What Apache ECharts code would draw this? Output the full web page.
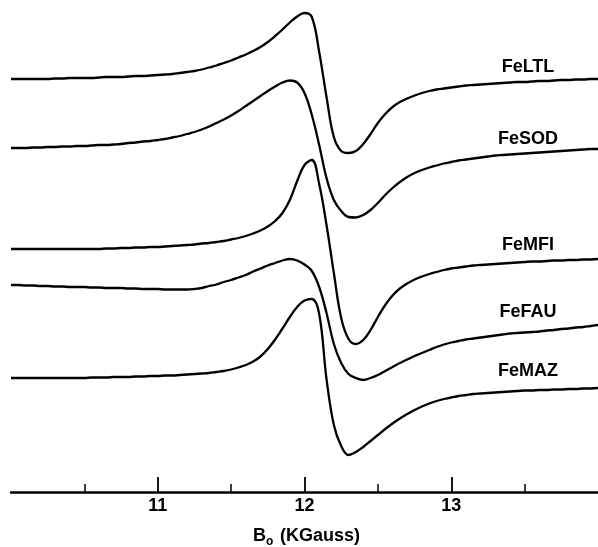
<!DOCTYPE html>
<html>
<head>
<meta charset="utf-8">
<script src="https://cdn.jsdelivr.net/npm/echarts@6/dist/echarts.min.js"></script>
<style>
html,body{margin:0;padding:0;background:#fff;}
#chart{width:598px;height:547px;}
</style>
</head>
<body>
<div id="chart"></div>
<script>
// Magnetic field B0 (KGauss): 10.00 to 14.00 in steps of 0.05
var fieldStart = 10.0;
var fieldStep = 0.05;
// EPR signal (arbitrary units, offset-stacked), one value per field step
var feLTL = [413,413,413,413,413,413,413.5,413.5,414,414,
             414,414,414.5,415,415,415,415.5,416,416,416.5,
             417,417.5,418,419,420,421,422.5,424.5,426.5,429,
             431.5,434.5,437.5,441,445,450,456,462.5,469.5,475.5,
             479,475,440,395,355,341,339,341,348,358,
             369,378,385,390,393.5,396.5,399,401,402.5,403.5,
             404.5,405.5,406.5,407,407.5,408,408.5,409,409.5,410,
             410,410.5,411,411,411.5,412,412,412.5,412.5,413,
             413];
var feSOD = [344,344,344,344.5,344.5,345,345,345.5,345.5,346,
             346,346.5,347,347,347.5,348,349,349.5,350.5,351,
             352,353,354.5,356,358,360,362.5,365.5,369,372.5,
             376.5,381,386,391,396,401,405.5,409.5,411.5,409.5,
             399,377,347,314,292,281,275,274.5,277,282,
             289,297,304,310,315,319,322,324.5,326.5,328.5,
             330,331.5,332.5,333.5,334.5,335.5,336.5,337,337.5,338,
             338.5,339,339.5,340,340.5,341,341.5,342,342.5,343,
             343];
var feMFI = [243,243,243,243,243,243,243,243,243,243,
             243,243,243,243.5,243.5,244,244,244.5,244.5,245,
             245,245.5,246,246.5,247,247.5,248.5,249,250,251,
             252.5,254,256,258.5,261.5,265.5,271,279,292,311,
             327,332,308,267,219,174,153,148,152,162,
             175,187,196.5,203.5,208.5,212.5,215.5,218,220,222,
             223.5,224.5,225.5,226.5,227,227.5,228,228.5,229,229.5,
             230,230.5,230.5,231,231.5,231.5,232,232,232.5,232.5,
             233];
var feFAU = [207,207,206.5,206.5,206,206,205.5,205.5,205,205,
             205,204.5,204.5,204,204,204,203.5,203.5,203,203,
             203,202.5,202.5,202.5,202.5,203,204,206,207.5,210,
             212,214.5,217,220.5,223.5,226.5,229,231.5,233,231.5,
             227.5,221,205,179,148,129,118,114,112,114,
             117,121,125,129,132.5,136,139,142,145,147.5,
             149.5,151,152.5,153.5,154.5,155.5,156.5,157.5,158.5,159,
             159.5,160,160.5,161.5,162,163,163.5,164.5,165,166,
             167];
var feMAZ = [114,114,114,114,114,114,114,114,114,114,
             114,114.5,114.5,114.5,115,115,115,115.5,115.5,116,
             116,116.5,116.5,117,117.5,118,118.5,119,120,121,
             122.5,124.5,127,130.5,135.5,143,152.5,163.5,175,185,
             191.5,193,178,113,67,46,37,40,45,51,
             57,63,68.5,73.5,78,82,85.5,88.5,91,93,
             94.5,96,97,98,98.5,99,99.5,100,100.5,101,
             101.5,101.5,102,102,102.5,102.5,103,103,103.5,103.5,
             104];
var seriesNames = ['FeLTL','FeSOD','FeMFI','FeFAU','FeMAZ'];
var majorTicks = [11,12,13];
var minorTicks = [10.5,11.5,12.5,13.5];
var axisTitleMain = 'B';
var axisTitleSub = 'o';
var axisTitleUnit = '(KGauss)';

var allSeries = [feLTL, feSOD, feMFI, feFAU, feMAZ];
var FONT = '"Liberation Sans", Arial, Helvetica, sans-serif';

var chart = echarts.init(document.getElementById('chart'), null, {renderer:'canvas'});

var series = allSeries.map(function(vals, k){
  return {
    name: seriesNames[k],
    type: 'line',
    data: vals.map(function(v,i){ return [+(fieldStart + i*fieldStep).toFixed(2), v]; }),
    showSymbol: false,
    smooth: 0.4,
    lineStyle: {color:'#000', width: 2.3},
    silent: true,
    animation: false
  };
});

var labelY = [67, 139, 245, 312, 371];
var graphics = seriesNames.map(function(n, k){
  return {
    type:'text', x: 528, y: labelY[k],
    style:{text:n, fill:'#000', font:'bold 18px ' + FONT, textAlign:'center', textVerticalAlign:'middle'}
  };
});
graphics.push({type:'text', x:253, y:536, style:{text:axisTitleMain, fill:'#000', font:'bold 18px ' + FONT, textAlign:'left', textVerticalAlign:'middle'}});
graphics.push({type:'text', x:266, y:542, style:{text:axisTitleSub, fill:'#000', font:'bold 12px ' + FONT, textAlign:'left', textVerticalAlign:'middle'}});
graphics.push({type:'text', x:280, y:536, style:{text:axisTitleUnit, fill:'#000', font:'bold 18px ' + FONT, textAlign:'left', textVerticalAlign:'middle'}});

chart.setOption({
  animation: false,
  backgroundColor: '#fff',
  grid: {left: 11, right: 0, top: 0, bottom: 55, containLabel: false},
  xAxis: [{
    type: 'value', min: 10, max: 14, interval: 1, position: 'bottom',
    axisLine: {show: true, onZero: false, lineStyle: {color:'#000', width: 2.5}},
    axisTick: {show: true, inside: true, length: 15, customValues: majorTicks, lineStyle: {color:'#000', width: 1.8}},
    axisLabel: {show: true, customValues: majorTicks, margin: 5, color:'#000', fontSize: 18, fontWeight: 'bold', fontFamily: FONT},
    splitLine: {show: false}
  },{
    type: 'value', min: 10, max: 14, interval: 0.5, position: 'bottom',
    axisLine: {show: false, onZero: false},
    axisTick: {show: true, inside: true, length: 8, customValues: minorTicks, lineStyle: {color:'#000', width: 1.5}},
    axisLabel: {show: false},
    splitLine: {show: false}
  }],
  yAxis: {type: 'value', min: 0, max: 492, show: false},
  series: series,
  graphic: graphics
});
</script>
</body>
</html>
